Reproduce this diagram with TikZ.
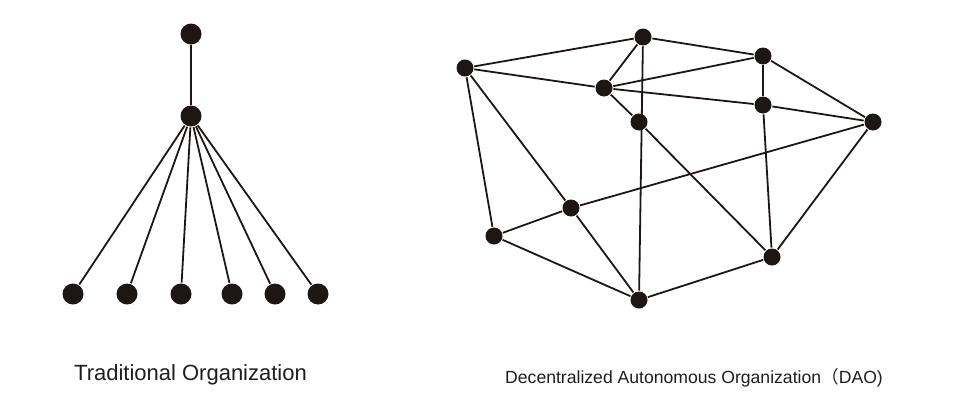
\documentclass[tikz,border=0pt]{standalone}
\usepackage{fontspec}
\setmainfont{Liberation Sans}
\newfontfamily\cjkfont{Noto Sans CJK SC}
\usetikzlibrary{positioning}
\definecolor{dotblack}{RGB}{30,22,20}
\definecolor{textgray}{RGB}{30,30,30}

\begin{document}
\begin{tikzpicture}[
  x=1pt, y=-1pt, color=dotblack,
  dot/.style={circle, fill=dotblack, inner sep=0pt, minimum size=17pt},
  bigdot/.style={dot, minimum size=21pt},
  caption/.style={inner sep=0pt, anchor=base, text=textgray},
  every path/.style={line width=1.8pt},
]
\useasboundingbox (0,0) rectangle (960,402);
% traditional organization: one head, one manager, six members
\node[bigdot] (head) at (191,34) {};
\node[bigdot] (mgr) at (191,116) {};
\node[bigdot] (m1) at (73,294) {};
\node[bigdot] (m2) at (127,294) {};
\node[bigdot] (m3) at (181,294) {};
\node[bigdot] (m4) at (232,294) {};
\node[bigdot] (m5) at (275,294) {};
\node[bigdot] (m6) at (318,294) {};
% dao: eleven peers
\node[dot] (A) at (465,68) {};
\node[dot] (B) at (643,37) {};
\node[dot] (C) at (763,56) {};
\node[dot] (D) at (604,88) {};
\node[dot] (E) at (763,105) {};
\node[dot] (F) at (639,122) {};
\node[dot] (G) at (873,122) {};
\node[dot] (H) at (571,208) {};
\node[dot] (I) at (494,236) {};
\node[dot] (J) at (772,257) {};
\node[dot] (K) at (639,300) {};
% captions
\node[caption, font=\fontsize{22}{26}\selectfont] (tcap) at (190.5,380)
  {Traditional Organization};
\node[caption, font=\fontsize{17.6}{21}\selectfont] (dcap) at (694,383.5)
  {Decentralized Autonomous Organization{\cjkfont （}DAO)};
% edges
\draw (head) -- (mgr);
\draw (mgr) -- (m1);
\draw (mgr) -- (m2);
\draw (mgr) -- (m3);
\draw (mgr) -- (m4);
\draw (mgr) -- (m5);
\draw (mgr) -- (m6);
\draw (A) -- (B);
\draw (A) -- (D);
\draw (A) -- (H);
\draw (A) -- (I);
\draw (B) -- (C);
\draw (B) -- (D);
\draw (B) -- (K);
\draw (D) -- (C);
\draw (D) -- (E);
\draw (D) -- (F);
\draw (C) -- (E);
\draw (C) -- (G);
\draw (E) -- (G);
\draw (E) -- (J);
\draw (F) -- (J);
\draw (G) -- (H);
\draw (G) -- (J);
\draw (H) -- (I);
\draw (H) -- (K);
\draw (I) -- (K);
\draw (K) -- (J);
\end{tikzpicture}
\end{document}
